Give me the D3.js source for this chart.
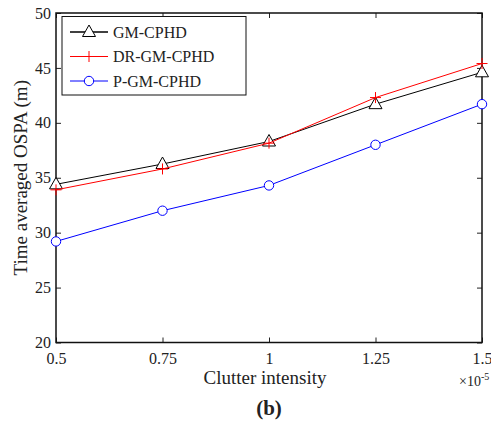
<!DOCTYPE html>
<html>
<head>
<meta charset="utf-8">
<script src="https://cdn.jsdelivr.net/npm/d3@7"></script>
<style>
  body { margin: 0; background: #fff; }
  text { font-family: "Liberation Serif", "DejaVu Serif", serif; fill: #222; }
</style>
</head>
<body>
<svg id="chart" width="491" height="423"></svg>
<script>
// data
var intensity = [0.5, 0.75, 1, 1.25, 1.5];
var xTicks = [0.5, 0.75, 1, 1.25, 1.5];
var xTickLabels = ['0.5', '0.75', '1', '1.25', '1.5'];
var yTicks = [20, 25, 30, 35, 40, 45, 50];
var gmCphd = [34.4, 36.25, 38.3, 41.7, 44.6];
var drGmCphd = [33.9, 35.8, 38.15, 42.3, 45.4];
var pGmCphd = [29.2, 32.0, 34.3, 38.0, 41.7];
var seriesNames = ['GM-CPHD', 'DR-GM-CPHD', 'P-GM-CPHD'];

var svg = d3.select('#chart');
var plot = {l: 56, r: 482, t: 13, b: 342.5};

var x = d3.scaleLinear().domain([0.5, 1.5]).range([plot.l, plot.r]);
var y = d3.scaleLinear().domain([20, 50]).range([plot.b, plot.t]);

var series = [
  {name: seriesNames[0], values: gmCphd, color: '#000', marker: 'tri'},
  {name: seriesNames[1], values: drGmCphd, color: '#f00', marker: 'plus'},
  {name: seriesNames[2], values: pGmCphd, color: '#00f', marker: 'circle'}
];

// axes with inward ticks, mirrored on top/right
var tickLen = 5;
svg.append('g').attr('transform', 'translate(0,' + plot.b + ')')
  .call(d3.axisBottom(x).tickValues(xTicks).tickSizeInner(-tickLen).tickSizeOuter(0)
    .tickPadding(10).tickFormat(function(d, i) { return xTickLabels[i]; }));
svg.append('g').attr('transform', 'translate(0,' + plot.t + ')')
  .call(d3.axisTop(x).tickValues(xTicks).tickSizeInner(-tickLen).tickSizeOuter(0).tickFormat(''));
svg.append('g').attr('transform', 'translate(' + plot.l + ',0)')
  .call(d3.axisLeft(y).tickValues(yTicks).tickSizeInner(-tickLen).tickSizeOuter(0).tickPadding(5));
svg.append('g').attr('transform', 'translate(' + plot.r + ',0)')
  .call(d3.axisRight(y).tickValues(yTicks).tickSizeInner(-tickLen).tickSizeOuter(0).tickFormat(''));

svg.selectAll('.domain').remove();
svg.selectAll('.tick line').attr('stroke', '#222');
svg.selectAll('.tick text').attr('font-size', 16).attr('font-family', '"Liberation Serif", serif').attr('fill', '#222');

svg.append('rect')
  .attr('x', plot.l).attr('y', plot.t)
  .attr('width', plot.r - plot.l).attr('height', plot.b - plot.t)
  .attr('fill', 'none').attr('stroke', '#111').attr('stroke-width', 1.5);

function drawMarker(g, type, cx, cy, color) {
  if (type == 'tri') {
    g.append('path')
      .attr('d', 'M' + cx + ',' + (cy - 7) + 'L' + (cx + 6.5) + ',' + (cy + 4.5) + 'L' + (cx - 6.5) + ',' + (cy + 4.5) + 'Z')
      .attr('fill', '#fff').attr('stroke', color).attr('stroke-width', 1);
  } else if (type == 'plus') {
    g.append('path')
      .attr('d', 'M' + (cx - 5.5) + ',' + cy + 'H' + (cx + 5.5) + 'M' + cx + ',' + (cy - 5.5) + 'V' + (cy + 5.5))
      .attr('stroke', color).attr('stroke-width', 1);
  } else {
    g.append('circle').attr('cx', cx).attr('cy', cy).attr('r', 4.7)
      .attr('fill', '#fff').attr('stroke', color).attr('stroke-width', 1);
  }
}

var line = d3.line()
  .x(function(d, i) { return x(intensity[i]); })
  .y(function(d) { return y(d); });

series.forEach(function(s) {
  var g = svg.append('g');
  g.append('path').datum(s.values)
    .attr('d', line).attr('fill', 'none')
    .attr('stroke', s.color).attr('stroke-width', 1);
  s.values.forEach(function(v, i) {
    drawMarker(g, s.marker, x(intensity[i]), y(v), s.color);
  });
});

// legend
var legend = svg.append('g');
legend.append('rect')
  .attr('x', 62).attr('y', 16.5).attr('width', 184).attr('height', 78.5)
  .attr('fill', '#fff').attr('stroke', '#111').attr('stroke-width', 1);
series.forEach(function(s, i) {
  var ly = 32 + i * 24.5;
  legend.append('line').attr('x1', 70).attr('x2', 108).attr('y1', ly).attr('y2', ly)
    .attr('stroke', s.color).attr('stroke-width', s.marker == 'tri' ? 1.5 : 1);
  drawMarker(legend, s.marker, 89, ly, s.color);
  legend.append('text').attr('x', 113).attr('y', ly + 5.5)
    .attr('font-size', 16).text(s.name);
});

// axis titles
svg.append('text')
  .attr('x', 265).attr('y', 384).attr('text-anchor', 'middle')
  .attr('font-size', 19).text('Clutter intensity');
svg.append('text')
  .attr('transform', 'translate(27,' + ((plot.t + plot.b) / 2) + ') rotate(-90)')
  .attr('text-anchor', 'middle').attr('font-size', 19)
  .text('Time averaged OSPA (m)');
var expo = svg.append('text').attr('x', 459).attr('y', 386).attr('font-size', 14);
expo.append('tspan').text('\u00d710');
expo.append('tspan').attr('dy', -6).attr('font-size', 10).text('-5');

svg.append('text')
  .attr('x', 269).attr('y', 415).attr('text-anchor', 'middle')
  .attr('font-size', 21).attr('font-weight', 'bold')
  .text('(b)');
</script>
</body>
</html>
